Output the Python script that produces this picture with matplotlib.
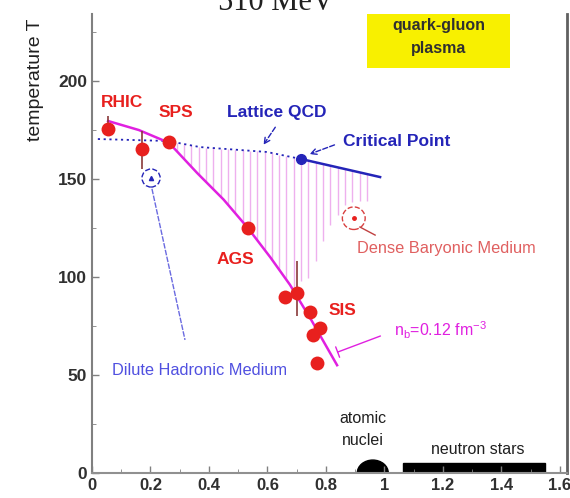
import numpy as np
import matplotlib.pyplot as plt
from matplotlib.patches import Ellipse, Rectangle

plt.rcParams['font.family'] = ['Liberation Sans', 'DejaVu Sans']

# chemical freeze-out points: baryon density (fm^-3) and temperature (MeV)
pts_x = [0.055, 0.171, 0.263, 0.533, 0.66, 0.70, 0.745, 0.78, 0.755, 0.77]
pts_T = [175.5, 165.3, 168.9, 125.0, 89.8, 91.8, 82.0, 74.0, 70.4, 56.0]

# vertical error bars
err_x = [0.055, 0.171, 0.70]
err_lo = [175.5, 155.0, 80.0]
err_hi = [182.0, 174.5, 108.0]

# freeze-out curve (magenta)
curve_x = [0.055, 0.16, 0.263, 0.36, 0.45, 0.533, 0.61, 0.677, 0.75, 0.838]
curve_T = [179.6, 175.0, 168.5, 153.0, 139.5, 125.0, 110.0, 96.0, 78.0, 55.0]

# lattice QCD crossover (dotted) and first order line (solid)
lat_x = [0.02, 0.26, 0.369, 0.598, 0.715]
lat_T = [170.4, 169.4, 166.3, 163.8, 160.2]
crit_x, crit_T = 0.715, 160.2
fo_x = [0.715, 0.985]
fo_T = [160.2, 151.0]

# lower edge of the hatched band on the dense side
band_x = [0.70, 0.745, 0.803, 0.872, 0.95]
band_T = [97.0, 100.0, 124.0, 138.0, 139.0]

xticks = [0, 0.2, 0.4, 0.6, 0.8, 1.0, 1.2, 1.4, 1.6]
xlabels = ['0', '0.2', '0.4', '0.6', '0.8', '1', '1.2', '1.4', '1.6']
yticks = [0, 50, 100, 150, 200]

red = '#e8201e'
magenta = '#e020e0'
blue = '#2424b8'


def main():
    fig = plt.figure(figsize=(5.7, 4.98), dpi=100)
    ax = fig.add_axes([0.1614, 0.0502, 0.8333, 0.9217])
    ax.set_xlim(0, 1.624)
    ax.set_ylim(0, 234.2)

    # hatched region between lattice line and freeze-out curve
    up_x = lat_x + fo_x[1:]
    up_T = lat_T + fo_T[1:]
    hx = np.arange(0.29, 0.96, 0.025)
    top = np.interp(hx, up_x, up_T)
    bot = np.maximum(np.interp(hx, curve_x, curve_T), np.interp(hx, band_x, band_T, left=0))
    ax.vlines(hx, bot, top, color='#eeb0ee', lw=1)

    ax.plot(lat_x, lat_T, ls=(0, (1.2, 2)), color=blue, lw=1.3)
    ax.plot(fo_x, fo_T, color=blue, lw=1.8)
    ax.plot(crit_x, crit_T, 'o', color=blue, ms=7)

    ax.plot(curve_x, curve_T, color=magenta, lw=1.8)

    ax.vlines(err_x, err_lo, err_hi, color='#8a3a3a', lw=1.2)
    ax.plot(pts_x, pts_T, 'o', color=red, ms=10, mec='none')

    # dilute / dense medium circles
    ax.add_patch(Ellipse((0.202, 150.5), 0.062, 9.2, fill=False, ec=blue, ls='--', lw=1))
    ax.plot(0.202, 150.5, '^', color=blue, ms=3)
    ax.plot([0.205, 0.318], [145.0, 67.9], color='#6a6ae0', ls=(0, (4, 1)), lw=1)
    ax.text(0.369, 52.5, 'Dilute Hadronic Medium', color='#5050e0', fontsize=11.8,
            ha='center', va='center')

    ax.add_patch(Ellipse((0.895, 130.0), 0.078, 11.5, fill=False, ec='#d84040', ls='--', lw=1))
    ax.plot(0.895, 130.0, 'o', color=red, ms=2.5)
    ax.plot([0.916, 0.968], [125.5, 121.4], color='#c04040', lw=1)
    ax.text(1.213, 114.8, 'Dense Baryonic Medium', color='#e06060', fontsize=11.8,
            ha='center', va='center')

    # experiment labels
    for s, x, y in [('RHIC', 0.103, 188.8), ('SPS', 0.287, 183.7),
                    ('AGS', 0.489, 108.7), ('SIS', 0.855, 83.0)]:
        ax.text(x, y, s, color=red, fontsize=12.5, fontweight='bold', ha='center', va='center')

    ax.text(0.632, 183.7, 'Lattice QCD', color=blue, fontsize=12.5, fontweight='bold',
            ha='center', va='center')
    ax.annotate('', xy=(0.581, 166.3), xytext=(0.632, 177.6),
                arrowprops=dict(arrowstyle='->', color=blue, ls='--', lw=1))
    ax.text(1.043, 168.9, 'Critical Point', color=blue, fontsize=12.5, fontweight='bold',
            ha='center', va='center')
    ax.annotate('', xy=(0.735, 162.2), xytext=(0.838, 167.9),
                arrowprops=dict(arrowstyle='->', color=blue, ls='--', lw=1))

    ax.text(1.19, 73.0, r'n$_\mathregular{b}$=0.12 fm$^\mathregular{-3}$', color=magenta,
            fontsize=11.5, ha='center', va='center')
    ax.annotate('', xy=(0.831, 61.2), xytext=(0.995, 70.4),
                arrowprops=dict(arrowstyle='-[, widthB=0.4, lengthB=0', color=magenta, lw=1))

    # quark-gluon plasma box
    ax.add_patch(Rectangle((0.94, 206.6), 0.489, 40, color='#f8f000', ec='none'))
    ax.text(1.185, 222.4, 'quark-gluon\nplasma', color='#303030', fontsize=11.5,
            fontweight='bold', ha='center', va='center', linespacing=1.7)

    # atomic nuclei and neutron stars
    ax.add_patch(Ellipse((0.96, 0), 0.106, 13.2, color='black'))
    ax.text(0.927, 22.0, 'atomic\nnuclei', fontsize=11.5, ha='center', va='center',
            linespacing=1.6, color='#202020')
    ax.add_patch(Rectangle((1.065, 0), 0.485, 5.0, color='black'))
    ax.text(1.32, 12.0, 'neutron stars', fontsize=11.5, ha='center', va='center',
            color='#202020')

    ax.set_xticks(xticks)
    ax.set_xticklabels(xlabels)
    ax.set_yticks(yticks)
    ax.set_xticks(np.arange(0, 1.62, 0.1), minor=True)
    ax.set_yticks(np.arange(0, 234, 25), minor=True)
    ax.tick_params(direction='in', length=5, width=1, color='#808080', labelsize=12.5)
    ax.tick_params(axis='x', labelsize=12)
    ax.tick_params(which='minor', direction='in', length=3, color='#808080')
    for lab in ax.get_xticklabels() + ax.get_yticklabels():
        lab.set_fontweight('bold')
        lab.set_color('#303030')

    ax.spines['top'].set_visible(False)
    ax.spines['left'].set_color('#808080')
    ax.spines['bottom'].set_color('#909090')
    ax.spines['left'].set_linewidth(1.5)
    ax.spines['bottom'].set_linewidth(1.5)
    ax.spines['right'].set_color('#606060')
    ax.spines['right'].set_linewidth(2)

    ax.set_ylabel('temperature T', fontsize=14, loc='top', color='#202020')
    ax.yaxis.set_label_coords(-0.1, 0.99)

    fig.text(276 / 570, 1 - 10 / 498, '510 MeV', ha='center', va='baseline',
             fontsize=22, family='Liberation Serif', color='#202020')

    fig.savefig('out.png', dpi=100)


if __name__ == "__main__":
    main()
